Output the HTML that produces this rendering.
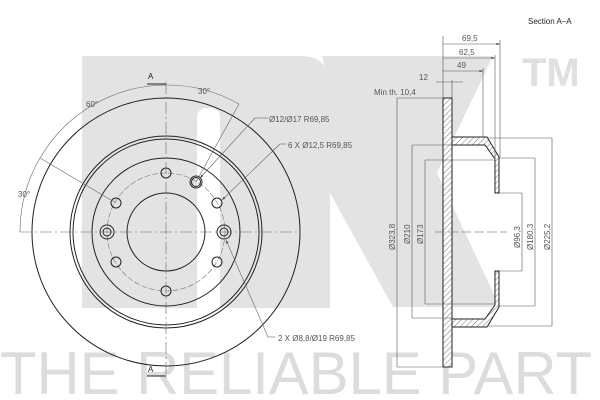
<!DOCTYPE html>
<html><head><meta charset="utf-8"><style>
html,body{margin:0;padding:0;background:#fff;}
svg{display:block;font-family:"Liberation Sans",sans-serif;}
</style></head><body>
<svg width="600" height="400" viewBox="0 0 600 400" xmlns="http://www.w3.org/2000/svg">
<defs>
<pattern id="h" width="4" height="4" patternUnits="userSpaceOnUse" patternTransform="rotate(45)">
<rect width="4" height="4" fill="#fff"/><line x1="0" y1="0" x2="0" y2="4" stroke="#555" stroke-width="0.8"/></pattern>
<marker id="ar" markerWidth="6" markerHeight="6" refX="6" refY="3" orient="auto"><path d="M0,1 L6,3 L0,5 Z" fill="#444"/></marker>
</defs>
<!-- NK logo -->
<g fill="#e3e3e3">
<path d="M82,56 L300,56 Q330,56 330,86 L330,308 L82,308 Z"/>
<polygon points="322,56 493,56 437,173 500,307 393,307 330,193 330,86"/>
</g>
<rect x="197" y="108" width="23" height="200" fill="#fff" rx="9"/>
<rect x="197" y="300" width="23" height="8" fill="#fff"/>
<text x="522" y="86" font-size="40" fill="#e0e0e0" font-weight="bold">TM</text>
<text x="0" y="394" font-size="60" fill="#dcdcdc" textLength="592" lengthAdjust="spacingAndGlyphs">THE RELIABLE PART</text>

<!-- front view -->
<g fill="none" stroke="#222" stroke-width="1">
<circle cx="166" cy="232" r="134"/>
<circle cx="166" cy="232" r="96"/>
<circle cx="166" cy="232" r="93"/>
<circle cx="166" cy="232" r="74"/>
<circle cx="166" cy="232" r="39"/>
<circle cx="166" cy="232" r="59" stroke="#777" stroke-dasharray="6,2" stroke-width="0.6"/>
<circle cx="166" cy="173" r="5"/><circle cx="166" cy="291" r="5"/>
<circle cx="116" cy="203" r="5"/><circle cx="116" cy="262" r="5"/>
<circle cx="217" cy="203" r="5"/><circle cx="217" cy="262" r="5"/>
<circle cx="107" cy="232" r="7"/><circle cx="107" cy="232" r="4"/>
<circle cx="224" cy="232" r="7"/><circle cx="224" cy="232" r="4"/>
<circle cx="196" cy="182" r="6"/><circle cx="196" cy="182" r="4.5"/>
</g>
<g stroke="#666" stroke-width="0.6" fill="none">
<line x1="20" y1="232" x2="300" y2="232" stroke-dasharray="12,3,2,3"/>
<line x1="166" y1="82" x2="166" y2="378" stroke-dasharray="12,3,2,3"/>
<path d="M166,85 A147,147 0 0 1 239,104"/>
<path d="M166,85 A147,147 0 0 0 40,158"/>
<path d="M40,158 A147,147 0 0 0 20,232"/>
<line x1="239" y1="104" x2="196" y2="182"/>
<line x1="40" y1="158" x2="116" y2="203"/>
<line x1="255" y1="118" x2="200" y2="178" marker-end="url(#ar)"/><line x1="255" y1="118" x2="268" y2="118"/>
<line x1="280" y1="144" x2="222" y2="200" marker-end="url(#ar)"/><line x1="280" y1="144" x2="286" y2="144"/>
<line x1="268" y1="337" x2="226" y2="240" marker-end="url(#ar)"/><line x1="268" y1="337" x2="275" y2="337"/>
</g>
<g stroke="#222" stroke-width="1">
<line x1="147" y1="84" x2="166" y2="84"/><line x1="147" y1="376" x2="166" y2="376"/>
</g>
<g font-size="8" fill="#555">
<text x="198" y="94">30°</text><text x="86" y="107">60°</text><text x="18" y="197">30°</text>
<text x="269" y="122">Ø12/Ø17 R69,85</text>
<text x="288" y="148">6 X Ø12,5 R69,85</text>
<text x="278" y="341">2 X Ø8,8/Ø19 R69,85</text>
<text x="148" y="79" fill="#222">A</text><text x="148" y="372" fill="#222">A</text>
<text x="528" y="24" fill="#222">Section A–A</text>
</g>

<!-- section -->
<g stroke="#222" stroke-width="1" fill="url(#h)">
<rect x="443" y="98" width="9" height="269"/>
<path d="M452,137 L487,137 L499,157 L499,193 L495,193 L495,159 L485,145 L452,145 Z"/>
<path d="M452,327 L487,327 L499,307 L499,271 L495,271 L495,305 L485,319 L452,319 Z"/>
</g>
<g stroke="#555" stroke-width="0.6" fill="none">
<line x1="443" y1="36" x2="443" y2="98"/><line x1="500" y1="40" x2="500" y2="157"/>
<line x1="495" y1="55" x2="495" y2="160"/><line x1="483" y1="68" x2="483" y2="137"/>
<line x1="452" y1="80" x2="452" y2="98"/>
<line x1="443" y1="44" x2="500" y2="44" marker-end="url(#ar)"/><line x1="443" y1="58" x2="495" y2="58" marker-end="url(#ar)"/>
<line x1="443" y1="71" x2="483" y2="71" marker-end="url(#ar)"/><line x1="436" y1="82" x2="463" y2="82"/>
<line x1="397" y1="98" x2="397" y2="367"/><line x1="397" y1="98" x2="443" y2="98"/><line x1="397" y1="367" x2="443" y2="367"/>
<line x1="412" y1="145" x2="412" y2="318"/><line x1="412" y1="145" x2="452" y2="145"/><line x1="412" y1="318" x2="452" y2="318"/>
<line x1="425" y1="160" x2="425" y2="304"/><line x1="425" y1="160" x2="495" y2="160"/><line x1="425" y1="304" x2="495" y2="304"/>
<line x1="522" y1="193" x2="522" y2="271"/><line x1="499" y1="193" x2="522" y2="193"/><line x1="499" y1="271" x2="522" y2="271"/>
<line x1="535" y1="158" x2="535" y2="306"/><line x1="499" y1="158" x2="535" y2="158"/><line x1="499" y1="306" x2="535" y2="306"/>
<line x1="552" y1="138" x2="552" y2="326"/><line x1="487" y1="138" x2="552" y2="138"/><line x1="487" y1="326" x2="552" y2="326"/>
<line x1="435" y1="232" x2="507" y2="232" stroke-dasharray="10,3"/>
</g>
<g font-size="8" fill="#555">
<text x="462" y="41">69,5</text><text x="459" y="55">62,5</text><text x="457" y="68">49</text>
<text x="419" y="80">12</text><text x="374" y="95">Min th. 10,4</text>
<text transform="translate(395,250) rotate(-90)">Ø323,8</text>
<text transform="translate(410,244) rotate(-90)">Ø210</text>
<text transform="translate(423,244) rotate(-90)">Ø173</text>
<text transform="translate(520,248) rotate(-90)">Ø96,3</text>
<text transform="translate(533,250) rotate(-90)">Ø180,3</text>
<text transform="translate(550,250) rotate(-90)">Ø225,2</text>
</g>
</svg>
</body></html>
